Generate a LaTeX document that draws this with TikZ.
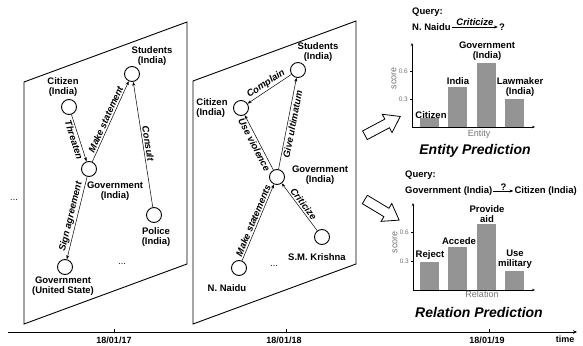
\documentclass[tikz,border=0pt]{standalone}
\usepackage{fontspec}
\setmainfont{Liberation Sans}
\usetikzlibrary{arrows.meta,shapes.arrows}

\tikzset{
  ent/.style={draw,circle,line width=0.9pt,minimum size=15pt,inner sep=0pt},
  lbl/.style={font=\bfseries\fontsize{9.5}{10.5}\selectfont,align=center,inner sep=1pt},
  rel/.style={-{Stealth[length=4pt,width=3pt]},line width=0.5pt},
  rtxt/.style={font=\bfseries\itshape\fontsize{9.5}{10.5}\selectfont,sloped,inner sep=1.5pt},
  slice/.style={line width=0.9pt},
  bar/.style={fill=black!42,draw=none},
  gtxt/.style={text=black!55,font=\fontsize{6.5}{7}\selectfont,inner sep=1pt},
  atxt/.style={text=black!55,font=\fontsize{9}{10}\selectfont,inner sep=1pt},
  ttl/.style={font=\bfseries\itshape\fontsize{14}{16}\selectfont,inner sep=1pt},
  dte/.style={font=\bfseries\fontsize{9}{10}\selectfont,inner sep=1pt},
  fat/.style={draw,fill=white,line width=0.8pt,single arrow,minimum height=40pt,
    inner xsep=0pt,inner ysep=4.5pt,single arrow head extend=5.5pt,single arrow tip angle=70},
}

\begin{document}
\begin{tikzpicture}[x=1pt,y=-1pt]
  \useasboundingbox (0,0) rectangle (583,345);

  % slice of 18/01/17
  \draw[slice] (24,82) -- (187,22) -- (187,264) -- (24,324) -- cycle;
  \node[ent] (ac) at (69,107) {};
  \node[lbl] (act) at (63,87) {Citizen\\(India)};
  \node[ent] (as) at (132,74) {};
  \node[lbl] (ast) at (152,56) {Students\\(India)};
  \node[ent] (ag) at (89,169) {};
  \node[lbl] (agt) at (115,191) {Government\\(India)};
  \node[ent] (ap) at (154,215) {};
  \node[lbl] (apt) at (156,237) {Police\\(India)};
  \node[ent] (au) at (65,267) {};
  \node[lbl] (aut) at (63,286) {Government\\(United State)};
  \node[lbl,font=\fontsize{9}{10}\selectfont] (adots) at (122,264) {...};
  \draw[rel] (ac) -- node[rtxt,below] (athr) {Threaten} (ag);
  \draw[rel] (ag) -- node[rtxt,above] (amak) {Make statement} (as);
  \draw[rel] (ap) -- node[rtxt,above] (acon) {Consult} (as);
  \draw[rel] (ag) -- node[rtxt,above] (asig) {Sign agreement} (au);

  % slice of 18/01/18
  \draw[slice] (193,81) -- (356,21) -- (356,264) -- (193,324) -- cycle;
  \node[ent] (bs) at (298,70) {};
  \node[lbl] (bst) at (318,52) {Students\\(India)};
  \node[ent] (bc) at (241,108) {};
  \node[lbl,align=left] (bct) at (212,108) {Citizen\\(India)};
  \node[ent] (bg) at (277,177) {};
  \node[lbl] (bgt) at (320,175) {Government\\(India)};
  \node[ent] (bk) at (322,237) {};
  \node[lbl] (bkt) at (317,257) {S.M. Krishna};
  \node[ent] (bn) at (239,268) {};
  \node[lbl] (bnt) at (227,288) {N. Naidu};
  \node[lbl,font=\fontsize{9}{10}\selectfont] (bdots) at (274,266) {...};
  \draw[rel] (bs) -- node[rtxt,above] (bcom) {Complain} (bc);
  \draw[rel] (bg) -- node[rtxt,below] (bvio) {Use violence} (bc);
  \draw[rel] (bg) -- node[rtxt,below] (bult) {Give ultimatum} (bs);
  \draw[rel] (bn) -- node[rtxt,above] (bmak) {Make statements} (bg);
  \draw[rel] (bk) -- node[rtxt,above] (bcri) {Criticize} (bg);

  \node[lbl,font=\fontsize{9}{10}\selectfont] (ldots) at (14,200) {...};

  % block arrows
  \node[fat,rotate=28] (upar) at (379.5,127.5) {};
  \node[fat,rotate=-31] (dnar) at (379,208) {};

  % entity query
  \node[lbl,anchor=west] (q1) at (411,12) {Query:};
  \node[lbl,anchor=west] (q1s) at (411,27) {N. Naidu};
  \node[lbl] (q1o) at (502,27) {?};
  \draw[rel] (q1s) -- node[rtxt,above,inner sep=1pt] (q1r) {Criticize} (q1o);

  % entity chart
  \draw[bar] (420,127) rectangle (439,118);
  \draw[bar] (448,127) rectangle (467,87);
  \draw[bar] (477,127) rectangle (496,63);
  \draw[bar] (505,127) rectangle (524,99);
  \draw[-{Stealth[length=3pt,width=2.5pt]},line width=0.6pt] (412,127) -- (412,43);
  \draw[-{Stealth[length=3pt,width=2.5pt]},line width=0.6pt] (412,127) -- (535,127);
  \draw[line width=0.4pt] (410,71) -- (412,71) (410,99) -- (412,99);
  \node[gtxt,anchor=east] (e6) at (409,71) {0.6};
  \node[gtxt,anchor=east] (e3) at (409,99) {0.3};
  \node[atxt,rotate=90] (esc) at (394,78) {score};
  \node[atxt] (ex) at (479,134) {Entity};
  \node[lbl] (eb1) at (431,115) {Citizen};
  \node[lbl] (eb2) at (458,81) {India};
  \node[lbl] (eb3) at (487,51) {Government\\(India)};
  \node[lbl] (eb4) at (520,87) {Lawmaker\\(India)};
  \node[ttl] (et) at (475,151) {Entity Prediction};

  % relation query
  \node[lbl,anchor=west] (q2) at (404,175) {Query:};
  \node[lbl,anchor=west] (q2s) at (404,191) {Government (India)};
  \node[lbl,anchor=east] (q2o) at (578,191) {Citizen (India)};
  \draw[rel] (q2s) -- node[lbl,above,inner sep=0.5pt] (q2r) {?} (q2o);

  % relation chart
  \draw[bar] (420,290) rectangle (439,262);
  \draw[bar] (448,290) rectangle (467,247);
  \draw[bar] (477,290) rectangle (496,224);
  \draw[bar] (505,290) rectangle (524,271);
  \draw[-{Stealth[length=3pt,width=2.5pt]},line width=0.6pt] (413,290) -- (413,203);
  \draw[-{Stealth[length=3pt,width=2.5pt]},line width=0.6pt] (413,290) -- (535,290);
  \draw[line width=0.4pt] (411,232) -- (413,232) (411,261) -- (413,261);
  \node[gtxt,anchor=east] (r6) at (410,232) {0.6};
  \node[gtxt,anchor=east] (r3) at (410,261) {0.3};
  \node[atxt,rotate=90] (rsc) at (395,242) {score};
  \node[atxt] (rx) at (482,294) {Relation};
  \node[lbl] (rb1) at (430,255) {Reject};
  \node[lbl] (rb2) at (459,241) {Accede};
  \node[lbl] (rb3) at (487,214) {Provide\\aid};
  \node[lbl] (rb4) at (515,259) {Use\\military};
  \node[ttl] (rt) at (479,312) {Relation Prediction};

  % time line
  \draw[-{Stealth[length=4pt,width=3.5pt]},line width=0.6pt] (8,332) -- (577,332);
  \draw[line width=0.4pt] (114,332) -- (114,329) (286,332) -- (286,329) (489,332) -- (489,329);
  \node[dte] (t1) at (114,340) {18/01/17};
  \node[dte] (t2) at (284,340) {18/01/18};
  \node[dte] (t3) at (487,340) {18/01/19};
  \node[dte] (t4) at (565,339) {time};
\end{tikzpicture}
\end{document}
